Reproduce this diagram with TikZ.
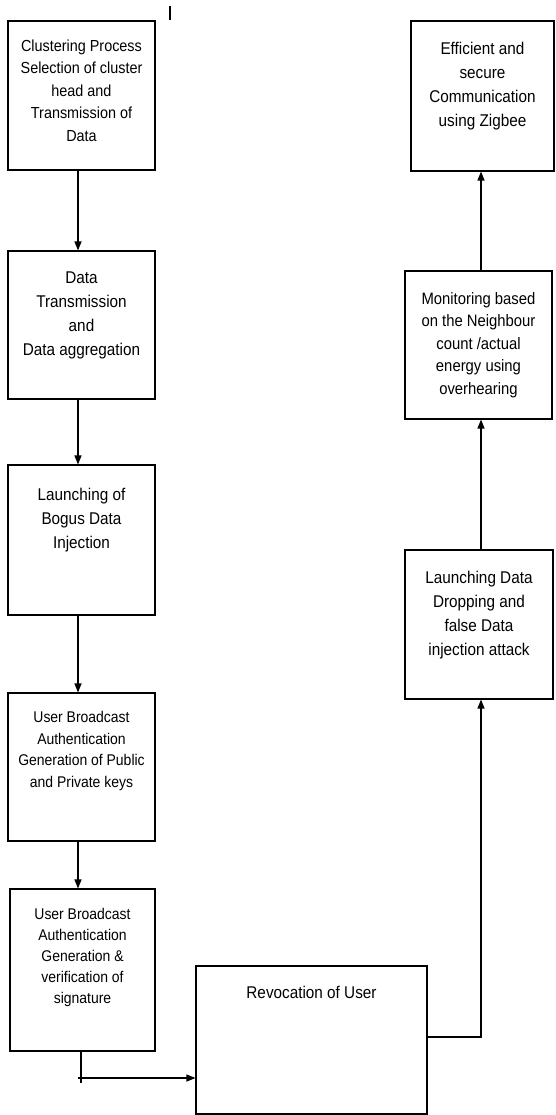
\documentclass[tikz,border=0pt]{standalone}
\usepackage{fontspec}
\setmainfont{Liberation Sans}[FakeStretch=0.9]
\usetikzlibrary{arrows.meta}
\begin{document}
\begin{tikzpicture}[x=1pt,y=-1pt,
  box/.style={draw=black, line width=1.1pt, rectangle, inner sep=0pt},
  txt/.style 2 args={font=\fontsize{#1}{#2}\selectfont, align=center, inner sep=0pt, anchor=north},
  arr/.style={line width=1.3pt, -{Triangle[length=9pt,width=7pt]}},
  wire/.style={line width=1.3pt}]
\useasboundingbox (0,0) rectangle (555,1115);

% left column
\node[box, minimum width=147pt, minimum height=149pt] (b1) at (81.5,95.5) {};
\node[box, minimum width=147pt, minimum height=148pt] (b2) at (81.5,325) {};
\node[box, minimum width=147pt, minimum height=150pt] (b3) at (81.5,540) {};
\node[box, minimum width=147pt, minimum height=148pt] (b4) at (81.5,767) {};
\node[box, minimum width=145pt, minimum height=162pt] (b5) at (82.5,970) {};
% bottom box
\node[box, minimum width=231pt, minimum height=148pt] (rev) at (311.5,1040) {};
% right column
\node[box, minimum width=148pt, minimum height=149pt] (r3) at (479,624.5) {};
\node[box, minimum width=147pt, minimum height=148pt] (r2) at (478.5,345) {};
\node[box, minimum width=143pt, minimum height=150pt] (r1) at (482.5,96) {};

% box texts
\node[txt={16}{22.5}] (t1) at ([yshift=-19pt]b1.north) {Clustering Process\\Selection of cluster\\head and\\Transmission of\\Data};
\node[txt={17}{24}] (t2) at ([yshift=-21.5pt]b2.north) {Data\\Transmission\\and\\Data aggregation};
\node[txt={17}{24}] (t3) at ([yshift=-24pt]b3.north) {Launching of\\Bogus Data\\Injection};
\node[txt={15.5}{21.7}] (t4) at ([yshift=-18.5pt]b4.north) {User Broadcast\\Authentication\\Generation of Public\\and Private keys};
\node[txt={15.5}{20.8}] (t5) at ([yshift=-20pt]b5.north) {User Broadcast\\Authentication\\Generation \&\\verification of\\signature};
\node[txt={17}{23}] (trev) at ([yshift=-20.5pt]rev.north) {Revocation of User};
\node[txt={17}{24}] (tr1) at ([yshift=-21.5pt]r1.north) {Efficient and\\secure\\Communication\\using Zigbee};
\node[txt={16.5}{22.5}] (tr2) at ([yshift=-21.5pt]r2.north) {Monitoring based\\on the Neighbour\\count /actual\\energy using\\overhearing};
\node[txt={17}{24}] (tr3) at ([yshift=-21.5pt]r3.north) {Launching Data\\Dropping and\\false Data\\injection attack};

% left column connectors, all on one vertical
\coordinate (lx) at (78,0);
\draw[arr] (b1.south -| lx) -- (b2.north -| lx);
\draw[arr] (b2.south -| lx) -- (b3.north -| lx);
\draw[arr] (b3.south -| lx) -- (b4.north -| lx);
\draw[arr] (b4.south -| lx) -- (b5.north -| lx);

% from the last left box into the revocation box
\coordinate (drop) at (81,1083);
\coordinate (tee) at (78,1078);
\draw[wire] (b5.south -| drop) -- (drop);
\draw[arr] (tee) -- (rev.west |- tee);

% right column connectors
\coordinate (rx) at (481,0);
\draw[arr] ([yshift=3pt]rev.east) -| (r3.south -| rx);
\draw[arr] (r3.north -| rx) -- (r2.south -| rx);
\draw[arr] (r2.north -| rx) -- (r1.south -| rx);

% small stroke at the top
\coordinate (m1) at (170,6);
\coordinate (m2) at (170,20);
\draw[line width=1.2pt] (m1) -- (m2);
\end{tikzpicture}
\end{document}
